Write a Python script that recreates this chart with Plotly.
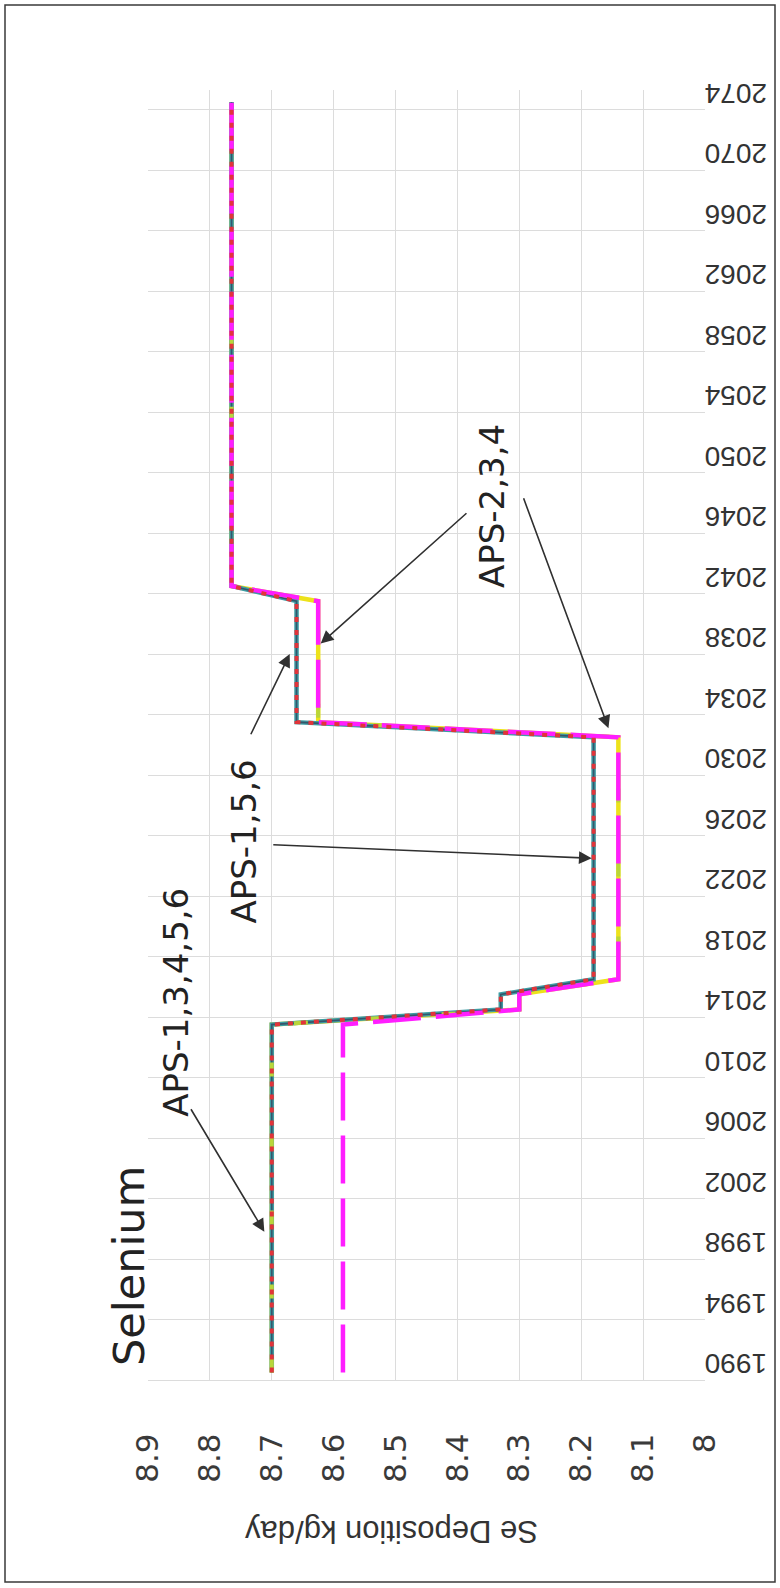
import plotly.graph_objects as go

# ---- data -----------------------------------------------------------------
years = list(range(1990, 2075))

# Selenium deposition (kg/day) per year for each APS scenario
aps_1 = [8.70] * 24 + [8.33] * 2 + [8.18] * 17 + [8.66] * 9 + [8.765] * 33
aps_5 = [8.70] * 24 + [8.33] * 2 + [8.18] * 17 + [8.66] * 9 + [8.765] * 33
aps_6 = [8.70] * 24 + [8.33] * 2 + [8.18] * 17 + [8.66] * 9 + [8.765] * 33
aps_3 = [8.70] * 24 + [8.30] * 2 + [8.14] * 17 + [8.625] * 9 + [8.765] * 33
aps_4 = [8.70] * 24 + [8.30] * 2 + [8.14] * 17 + [8.625] * 9 + [8.765] * 33
aps_2 = [8.585] * 24 + [8.30] * 2 + [8.14] * 17 + [8.625] * 9 + [8.765] * 33

value_ticks = [8.0, 8.1, 8.2, 8.3, 8.4, 8.5, 8.6, 8.7, 8.8, 8.9]
value_labels = ["8", "8.1", "8.2", "8.3", "8.4", "8.5", "8.6", "8.7", "8.8", "8.9"]
year_ticks = list(range(1990, 2075, 4))

# ---- geometry (page pixels) -------------------------------------------------
W, H = 780, 1588
L, R, T, B = 148, 705, 90, 1380


def paper_x(px):
    return (px - L) / (R - L)


def paper_y(py):
    return (B - py) / (B - T)


# each year is drawn at the centre of its category band
pos = [y + 0.5 for y in years]

series = [
    ("APS-3", aps_3, dict(color="#EDE21B", width=4.5)),
    ("APS-1", aps_1, dict(color="#3E9CA3", width=4.5)),
    ("APS-6", aps_6, dict(color="#35566B", width=1.6)),
    ("APS-4", aps_4, dict(color="#B9D63A", width=4, dash="14px,60px")),
    ("APS-2", aps_2, dict(color="#FF1EFF", width=4.5, dash="48px,15px")),
    ("APS-5", aps_5, dict(color="#E2343A", width=4, dash="5px,8px")),
]

fig = go.Figure()
for name, vals, line in series:
    fig.add_trace(go.Scatter(x=vals, y=pos, mode="lines", name=name,
                             line=line, showlegend=False))

tick_font = dict(family="DejaVu Sans", size=31, color="#3a3a3a")

fig.update_xaxes(
    range=[8.9, 8.0], tickmode="array", tickvals=value_ticks, ticktext=value_labels,
    tickangle=-90, tickfont=tick_font, ticklabelstandoff=40,
    showgrid=True, gridcolor="#dcdcdc", gridwidth=1,
    showline=True, linecolor="#dcdcdc", linewidth=1,
    zeroline=False, ticks="",
)
fig.update_yaxes(
    range=[1990, 2075.3], side="right", tickmode="array",
    tickvals=[y + 0.5 for y in year_ticks], ticktext=[str(y) for y in year_ticks],
    tickangle=180, tickfont=dict(family="Liberation Sans", size=28, color="#333333"),
    showgrid=False, zeroline=False, ticks="", ticklabelstandoff=61,
    minor=dict(tickmode="array", tickvals=year_ticks, showgrid=True,
               gridcolor="#dcdcdc", gridwidth=1, ticks=""),
)

label_font = dict(family="DejaVu Sans", size=34, color="#222222")
centred = dict(xanchor="center", yanchor="middle", showarrow=False)

annotations = [
    # chart title and axis title
    dict(text="Selenium", xref="paper", yref="paper", x=paper_x(129), y=paper_y(1266),
         textangle=-90, font=dict(family="DejaVu Sans", size=43, color="#222222"), **centred),
    dict(text="Se Deposition kg/day", xref="paper", yref="paper", x=paper_x(392), y=paper_y(1532),
         textangle=180, font=dict(family="Liberation Sans", size=31, color="#333333"), **centred),
    # scenario labels
    dict(text="APS-1,3,4,5,6", x=8.855, y=2015.0, textangle=-90, font=label_font, **centred),
    dict(text="APS-1,5,6", x=8.745, y=2025.6, textangle=-90, font=label_font, **centred),
    dict(text="APS-2,3,4", x=8.344, y=2047.8, textangle=-90, font=label_font, **centred),
]

# arrows: (head value, head year, tail value, tail year)
arrows = [
    (8.712, 1999.8, 8.832, 2008.0),
    (8.671, 2038.0, 8.735, 2032.6),
    (8.183, 2024.5, 8.700, 2025.4),
    (8.621, 2038.7, 8.383, 2047.4),
    (8.156, 2033.1, 8.294, 2048.4),
]
for hx, hy, tx, ty in arrows:
    annotations.append(dict(
        text="", x=hx, y=hy, ax=tx, ay=ty, axref="x", ayref="y", xref="x", yref="y",
        showarrow=True, arrowhead=2, arrowsize=1.6, arrowwidth=1.6, arrowcolor="#303030",
        standoff=0, startstandoff=0,
    ))

fig.update_layout(
    width=W, height=H,
    margin=dict(l=L, r=W - R, t=T, b=H - B, autoexpand=False),
    paper_bgcolor="white", plot_bgcolor="white",
    annotations=annotations,
    shapes=[dict(type="rect", xref="paper", yref="paper",
                 x0=paper_x(5), x1=paper_x(775), y0=paper_y(1582), y1=paper_y(5),
                 line=dict(color="#3a3a3a", width=1.5), fillcolor="rgba(0,0,0,0)",
                 layer="below")],
)

fig.write_html("out.html")
